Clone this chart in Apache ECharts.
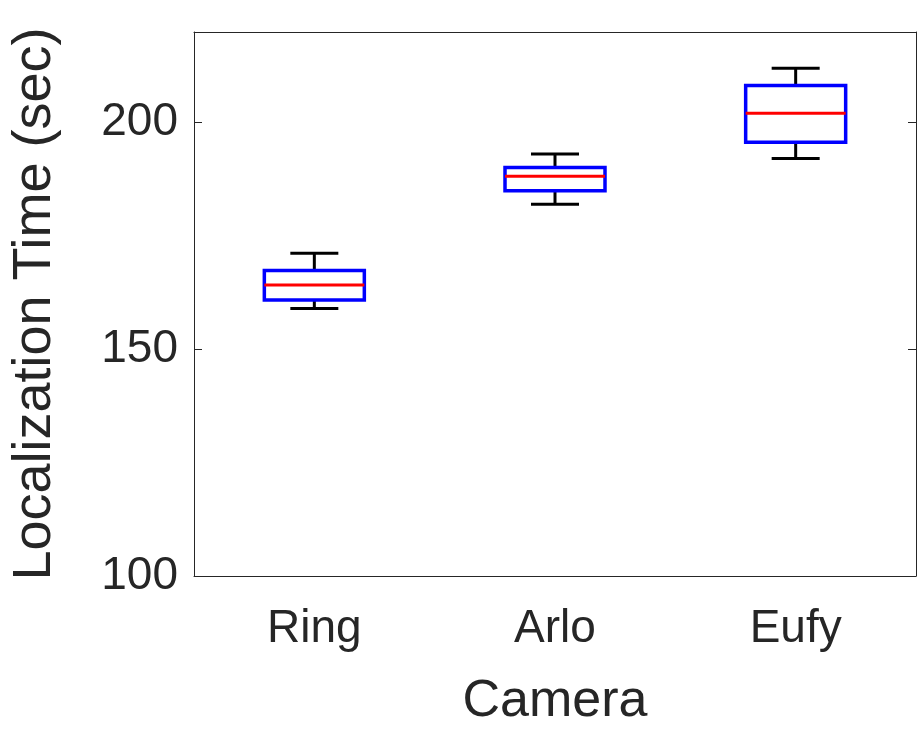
<!DOCTYPE html>
<html><head><meta charset="utf-8">
<script src="https://cdn.jsdelivr.net/npm/echarts@6/dist/echarts.min.js"></script>
<style>html,body{margin:0;padding:0;background:#fff}#c{width:917px;height:733px}</style>
</head><body><div id="c"></div>
<script>
const categories = ['Ring', 'Arlo', 'Eufy'];
const whiskerLow = [159.0, 182.0, 192.1];
const q1 = [160.9, 185.0, 195.7];
const median = [164.2, 188.2, 202.1];
const q3 = [167.4, 190.1, 208.2];
const whiskerHigh = [171.2, 193.1, 212.0];
const yTicks = [100, 150, 200];

const data = categories.map((c, i) => [i, whiskerLow[i], q1[i], median[i], q3[i], whiskerHigh[i]]);
const chart = echarts.init(document.getElementById('c'));
const font = 'Liberation Sans, Arial, sans-serif';
const axisLine = {show: true, lineStyle: {color: '#262626', width: 1}};
chart.setOption({
  animation: false,
  grid: {left: 172, right: 1, top: 32, bottom: 142, containLabel: false},
  xAxis: [{
    type: 'category', data: categories, boundaryGap: true,
    axisLine, axisTick: {inside: true, alignWithLabel: true, length: 8, lineStyle: {color: '#262626'}},
    axisLabel: {fontSize: 46, color: '#262626', fontFamily: font, margin: 30},
    name: 'Camera', nameLocation: 'middle', nameGap: 100,
    nameTextStyle: {fontSize: 52, color: '#262626', fontFamily: font}
  }, {
    type: 'category', data: categories, position: 'top', boundaryGap: true,
    axisLine, axisTick: {inside: true, alignWithLabel: true, length: 8, lineStyle: {color: '#262626'}},
    axisLabel: {show: false}
  }],
  yAxis: [{
    type: 'value', min: 100, max: 220, interval: 50,
    axisLine, axisTick: {show: true, inside: true, length: 8, lineStyle: {color: '#262626'}},
    splitLine: {show: false},
    axisLabel: {fontSize: 46, color: '#262626', fontFamily: font, margin: 16,
      formatter: v => yTicks.includes(v) ? String(v) : ''},
    name: 'Localization Time (sec)', nameLocation: 'middle', nameGap: 132, nameRotate: 90,
    nameTextStyle: {fontSize: 54, color: '#262626', fontFamily: font}
  }, {
    type: 'value', min: 100, max: 220, interval: 50, position: 'right',
    axisLine, axisTick: {show: true, inside: true, length: 8, lineStyle: {color: '#262626'}},
    splitLine: {show: false}, axisLabel: {show: false}
  }],
  series: [{
    type: 'custom', xAxisIndex: 0, yAxisIndex: 0, data,
    renderItem: (params, api) => {
      const x = api.value(0);
      const p = k => api.coord([x, api.value(k)]);
      const lo = p(1), b1 = p(2), md = p(3), b3 = p(4), hi = p(5);
      const cx = lo[0], hw = 50, cw = 24;
      const black = {stroke: '#000', lineWidth: 3};
      return {type: 'group', children: [
        {type: 'line', shape: {x1: cx, y1: hi[1], x2: cx, y2: b3[1]}, style: black},
        {type: 'line', shape: {x1: cx, y1: b1[1], x2: cx, y2: lo[1]}, style: black},
        {type: 'line', shape: {x1: cx - cw, y1: hi[1], x2: cx + cw, y2: hi[1]}, style: black},
        {type: 'line', shape: {x1: cx - cw, y1: lo[1], x2: cx + cw, y2: lo[1]}, style: black},
        {type: 'rect', shape: {x: cx - hw, y: b3[1], width: 2 * hw, height: b1[1] - b3[1]},
          style: {fill: 'none', stroke: '#0000ff', lineWidth: 3.5}},
        {type: 'line', shape: {x1: cx - hw, y1: md[1], x2: cx + hw, y2: md[1]},
          style: {stroke: '#ff0000', lineWidth: 3}}
      ]};
    }
  }]
});
</script></body></html>
